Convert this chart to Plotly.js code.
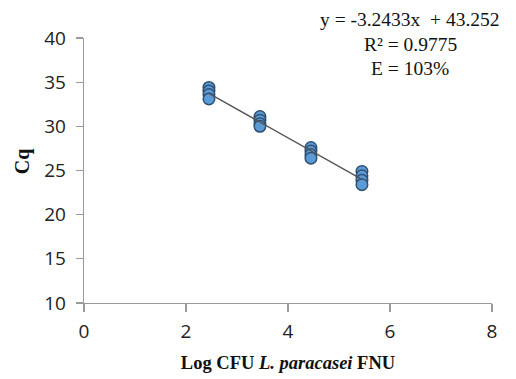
<!DOCTYPE html>
<html>
<head>
<meta charset="utf-8">
<script src="https://cdn.plot.ly/plotly-3.0.1.min.js"></script>
<style>html,body{margin:0;padding:0;background:#fff;}#chart{width:516px;height:379px;}</style>
</head>
<body>
<div id="chart"></div>
<script>
// Data
var logCFU = [2.45, 2.45, 2.45, 2.45, 3.45, 3.45, 3.45, 3.45, 4.45, 4.45, 4.45, 4.45, 5.45, 5.45, 5.45, 5.45];
var cq     = [34.4, 34.0, 33.6, 33.1, 31.1, 30.7, 30.3, 30.0, 27.6, 27.2, 26.8, 26.4, 24.9, 24.4, 23.9, 23.4];
var xTicks = [0, 2, 4, 6, 8];
var yTicks = [10, 15, 20, 25, 30, 35, 40];
var eqLines = ["y = -3.2433x  + 43.252", "R\u00b2 = 0.9775", "E = 103%"];

// least squares fit from the data
var n = logCFU.length, sx = 0, sy = 0, sxx = 0, sxy = 0;
for (var i = 0; i < n; i++) { sx += logCFU[i]; sy += cq[i]; sxx += logCFU[i]*logCFU[i]; sxy += logCFU[i]*cq[i]; }
var slope = (n*sxy - sx*sy) / (n*sxx - sx*sx);
var icpt = (sy - slope*sx) / n;
var xmin = Math.min.apply(null, logCFU), xmax = Math.max.apply(null, logCFU);
var fitX = [xmin, xmax];
var fitY = fitX.map(function(v){ return slope*v + icpt; });

var traces = [
  {x: logCFU, y: cq, type: 'scatter', mode: 'markers',
   marker: {size: 11.5, color: '#5b9bd5', line: {color: '#2f4f73', width: 1.5}},
   hoverinfo: 'skip', showlegend: false},
  {x: fitX, y: fitY, type: 'scatter', mode: 'lines',
   line: {color: '#555555', width: 1.4}, hoverinfo: 'skip', showlegend: false}
];

var serif = 'Liberation Serif, Times New Roman, serif';
var ann = eqLines.map(function(t, k){
  return {text: t, xref: 'paper', yref: 'paper', x: 0.80, y: 1.068 - k*0.091,
          xanchor: 'center', yanchor: 'middle', showarrow: false,
          font: {family: serif, size: 19.5, color: '#111'}};
});
ann.push({text: '<b>Cq</b>', xref: 'paper', yref: 'paper', x: -0.152, y: 0.535,
          xanchor: 'center', yanchor: 'middle', textangle: -90, showarrow: false,
          font: {family: serif, size: 20, color: '#111'}});

var layout = {
  width: 516, height: 379,
  margin: {l: 84, r: 24, t: 38, b: 76},
  paper_bgcolor: '#fff', plot_bgcolor: '#fff',
  showlegend: false,
  xaxis: {range: [0, 8], tickvals: xTicks, ticktext: xTicks.map(String),
          showgrid: false, zeroline: false, showline: true, linecolor: '#9a9a9a', linewidth: 1.3,
          ticks: 'outside', ticklen: 8, tickcolor: '#9a9a9a', tickwidth: 1.3, ticklabelstandoff: 3,
          tickfont: {family: 'Open Sans, sans-serif', size: 19, color: '#222'},
          title: {text: '<b>Log CFU <i>L. paracasei</i> FNU</b>', font: {family: serif, size: 18.5, color: '#111'}, standoff: 13}},
  yaxis: {range: [10, 40], tickvals: yTicks, ticktext: yTicks.map(String),
          showgrid: false, zeroline: false, showline: true, linecolor: '#9a9a9a', linewidth: 1.3,
          ticks: 'outside', ticklen: 7, tickcolor: '#9a9a9a', tickwidth: 1.3, ticklabelstandoff: 6,
          tickfont: {family: 'Open Sans, sans-serif', size: 19, color: '#222'}},
  annotations: ann
};

Plotly.newPlot('chart', traces, layout, {staticPlot: true, displayModeBar: false});
</script>
</body>
</html>
